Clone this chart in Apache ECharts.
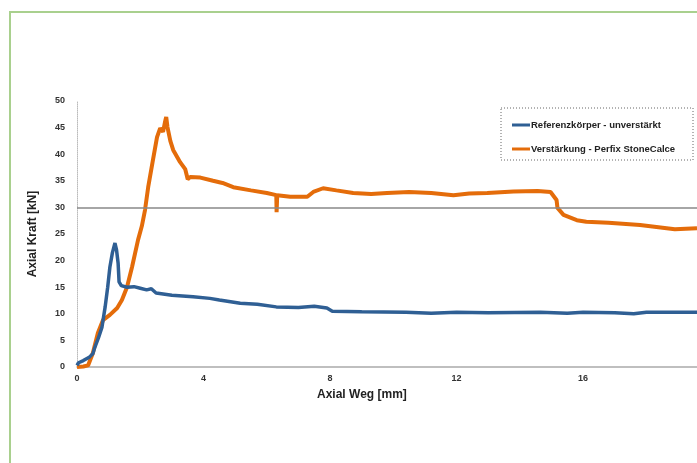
<!DOCTYPE html>
<html>
<head>
<meta charset="utf-8">
<script src="https://cdn.jsdelivr.net/npm/echarts@6/dist/echarts.min.js"></script>
<style>
html, body { margin: 0; padding: 0; background: #fff; }
#chart { width: 697px; height: 463px; }
</style>
</head>
<body>
<div id="chart"></div>
<script>
// Axial Weg [mm] / Axial Kraft [kN] pairs
var seriesNames = ['Referenzkörper - unverstärkt', 'Verstärkung - Perfix StoneCalce'];

var blueData = [
    [0, 0.3], [0.05, 0.8], [0.2, 1.2], [0.4, 1.9], [0.5, 2.5], [0.57, 3.8], [0.68, 5.5],
    [0.79, 7.5], [0.89, 11.3], [0.97, 15], [1.04, 18.8], [1.12, 21.5], [1.2, 23.3],
    [1.25, 22], [1.3, 19.5], [1.33, 16], [1.4, 15.3], [1.58, 15.0], [1.8, 15.1],
    [2.0, 14.8], [2.2, 14.5], [2.35, 14.7], [2.5, 13.9], [3.0, 13.5], [3.67, 13.2], [4.2, 12.9],
    [4.5, 12.6], [5.16, 12.0], [5.7, 11.8], [6.3, 11.3], [7.0, 11.2], [7.5, 11.4], [7.9, 11.1],
    [8.07, 10.5], [9, 10.4], [10.4, 10.3], [11.2, 10.1], [12, 10.3], [13, 10.2], [14.65, 10.3],
    [15.5, 10.1], [16, 10.3], [17, 10.2], [17.6, 10.0], [18, 10.3], [19.6, 10.3]
];

var orangeData = [
    [0, 0], [0.2, 0.1], [0.35, 0.3], [0.5, 2.6], [0.66, 6.4], [0.82, 8.8], [1.04, 9.8],
    [1.27, 11.1], [1.42, 12.6], [1.58, 15], [1.74, 18.8], [1.93, 23.9], [2.05, 26.5],
    [2.15, 29.5], [2.25, 33.8], [2.4, 38.9], [2.53, 43.2], [2.63, 44.9], [2.72, 44.2],
    [2.78, 46], [2.82, 47], [2.86, 45.1], [2.95, 42.5], [3.04, 40.8], [3.26, 38.5],
    [3.42, 37.2], [3.5, 35.3], [3.58, 35.7], [3.9, 35.6], [4.3, 35.0], [4.6, 34.6], [4.94, 33.8],
    [5.5, 33.2], [6.0, 32.7], [6.3, 32.3], [6.31, 29.1], [6.33, 32.3], [6.74, 32.0], [7.28, 32.0],
    [7.47, 32.9], [7.78, 33.6], [8.2, 33.2], [8.73, 32.7], [9.3, 32.5], [9.8, 32.7], [10.5, 32.9],
    [11.2, 32.7], [11.9, 32.3], [12.4, 32.6], [12.97, 32.7], [13.8, 33.0], [14.56, 33.1],
    [14.97, 32.9], [15.16, 31.4], [15.19, 29.9], [15.38, 28.6], [15.8, 27.6], [16.1, 27.3],
    [16.8, 27.1], [17.8, 26.7], [18.9, 25.9], [19.6, 26.1]
];

var refLine = 30;

var chart = echarts.init(document.getElementById('chart'), null, {renderer: 'canvas'});
var font = 'Liberation Sans, Arial, sans-serif';

var option = {
    backgroundColor: '#fff',
    animation: false,
    textStyle: {fontFamily: font},
    grid: {left: 77, right: 0, top: 101, bottom: 96},
    graphic: [
        // light green frame round the chart
        {type: 'rect', shape: {x: 10, y: 12, width: 720, height: 480},
         style: {fill: 'none', stroke: '#a9d08e', lineWidth: 2}, silent: true},
        // legend box
        {type: 'rect', shape: {x: 501, y: 108, width: 192, height: 52},
         style: {fill: '#fff', stroke: '#666', lineWidth: 1, lineDash: [1, 2]}, z: 5, silent: true},
        {type: 'text', left: 367 - 50, top: 389,
         style: {text: 'Axial Weg [mm]', font: 'bold 12px ' + font, fill: '#222', width: 100, align: 'center'}}
    ],
    legend: {
        orient: 'vertical',
        left: 507, top: 115,
        itemGap: 14,
        itemWidth: 18, itemHeight: 3,
        icon: 'rect',
        z: 10,
        textStyle: {fontSize: 9.5, color: '#222', fontWeight: 'bold', padding: [0, 0, 0, -4]},
        data: seriesNames
    },
    xAxis: {
        type: 'value',
        min: 0, max: 19.6, interval: 4,
        axisLine: {lineStyle: {color: '#aaa', width: 1.5}},
        axisTick: {show: false},
        splitLine: {show: false},
        axisLabel: {fontSize: 9, fontWeight: 'bold', color: '#333', margin: 7, showMaxLabel: false}
    },
    yAxis: {
        type: 'value',
        min: 0, max: 50, interval: 5,
        name: 'Axial Kraft [kN]',
        nameLocation: 'middle',
        nameGap: 38,
        nameTextStyle: {fontSize: 12, fontWeight: 'bold', color: '#222'},
        axisLine: {show: true, lineStyle: {color: '#bbb', type: 'dotted'}},
        axisTick: {show: false},
        splitLine: {show: false},
        axisLabel: {fontSize: 9, fontWeight: 'bold', color: '#333', margin: 12}
    },
    series: [{
        name: seriesNames[0],
        type: 'line',
        data: blueData,
        symbol: 'none',
        color: '#2f5f94',
        lineStyle: {width: 3.5},
        z: 3
    }, {
        name: seriesNames[1],
        type: 'line',
        data: orangeData,
        symbol: 'none',
        color: '#e46c0a',
        lineStyle: {width: 4},
        z: 2,
        markLine: {
            silent: true,
            symbol: 'none',
            label: {show: false},
            lineStyle: {color: '#888', width: 1.5, type: 'solid'},
            data: [{yAxis: refLine}]
        }
    }]
};
chart.setOption(option);
</script>
</body>
</html>
